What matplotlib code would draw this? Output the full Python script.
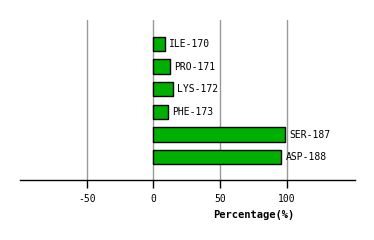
import matplotlib
matplotlib.use("Agg")
import matplotlib.pyplot as plt

residues = ["ILE-170", "PRO-171", "LYS-172", "PHE-173", "SER-187", "ASP-188"]
percentages = [8.8, 12.5, 14.8, 10.7, 98.8, 95.8]
xticks = [-50, 0, 50, 100]

W, H = 374, 240
fig = plt.figure(figsize=(W / 100, H / 100), dpi=100)
ax = fig.add_axes([20 / W, (H - 180) / H, (355 - 20) / W, 160 / H])

ypos = list(range(len(residues)))
ax.barh(ypos, percentages, height=0.63, color="#00b000", edgecolor="black",
        linewidth=1.0, zorder=3)
for y, v, name in zip(ypos, percentages, residues):
    ax.text(v + 3, y, name, va="center", ha="left", fontsize=7,
            family="DejaVu Sans Mono", zorder=4)

ax.set_xlim(-100, 151)
ax.set_ylim(6.0, -1.05)
ax.set_xticks(xticks)
ax.set_xticklabels([str(t) for t in xticks], fontsize=7, family="DejaVu Sans Mono")
ax.set_yticks([])
for s in ["top", "left", "right"]:
    ax.spines[s].set_visible(False)
ax.spines["bottom"].set_linewidth(1.0)
ax.tick_params(axis="x", direction="out", length=6, width=1, pad=4)
ax.grid(axis="x", color="#999999", linewidth=1.0, zorder=0)
ax.set_axisbelow(True)

fig.text(254 / W, 1 - 215 / H, "Percentage(%)", ha="center", va="center",
         fontsize=7.5, fontweight="bold", family="DejaVu Sans Mono")

fig.savefig("out.png", dpi=100)
